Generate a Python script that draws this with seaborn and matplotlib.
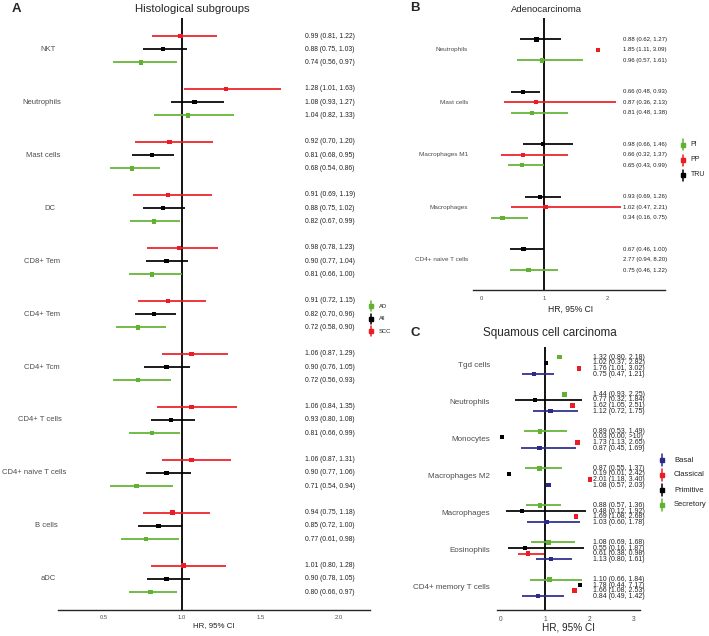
import numpy as np
import pandas as pd
import seaborn as sns
import matplotlib.pyplot as plt
from matplotlib import transforms
from matplotlib.lines import Line2D

sns.set_style('white')
plt.rcParams['font.family'] = ['Liberation Sans', 'DejaVu Sans']

# --- date panel A (subgrupuri histologice) ---
celule_a = ['NKT', 'Neutrophils', 'Mast cells', 'DC', 'CD8+ Tem', 'CD4+ Tem', 'CD4+ Tcm',
            'CD4+ T cells', 'CD4+ naive T cells', 'B cells', 'aDC']
scc = [(0.99, 0.81, 1.22), (1.28, 1.01, 1.63), (0.92, 0.70, 1.20), (0.91, 0.69, 1.19),
       (0.98, 0.78, 1.23), (0.91, 0.72, 1.15), (1.06, 0.87, 1.29), (1.06, 0.84, 1.35),
       (1.06, 0.87, 1.31), (0.94, 0.75, 1.18), (1.01, 0.80, 1.28)]
toate = [(0.88, 0.75, 1.03), (1.08, 0.93, 1.27), (0.81, 0.68, 0.95), (0.88, 0.75, 1.02),
         (0.90, 0.77, 1.04), (0.82, 0.70, 0.96), (0.90, 0.76, 1.05), (0.93, 0.80, 1.08),
         (0.90, 0.77, 1.06), (0.85, 0.72, 1.00), (0.90, 0.78, 1.05)]
ad = [(0.74, 0.56, 0.97), (1.04, 0.82, 1.33), (0.68, 0.54, 0.86), (0.82, 0.67, 0.99),
      (0.81, 0.66, 1.00), (0.72, 0.58, 0.90), (0.72, 0.56, 0.93), (0.81, 0.66, 0.99),
      (0.71, 0.54, 0.94), (0.77, 0.61, 0.98), (0.80, 0.66, 0.97)]

# --- date panel B (adenocarcinom) ---
celule_b = ['Neutrophils', 'Mast cells', 'Macrophages M1', 'Macrophages', 'CD4+ naive T cells']
tru = [(0.88, 0.62, 1.27), (0.66, 0.48, 0.93), (0.98, 0.66, 1.46), (0.93, 0.69, 1.26), (0.67, 0.46, 1.00)]
pp = [(1.85, 1.11, 3.09), (0.87, 0.36, 2.13), (0.66, 0.32, 1.37), (1.02, 0.47, 2.21), (2.77, 0.94, 8.20)]
pi = [(0.96, 0.57, 1.61), (0.81, 0.48, 1.38), (0.65, 0.43, 0.99), (0.34, 0.16, 0.75), (0.75, 0.46, 1.22)]

# --- date panel C (carcinom scuamos) ---
celule_c = ['Tgd cells', 'Neutrophils', 'Monocytes', 'Macrophages M2', 'Macrophages',
            'Eosinophils', 'CD4+ memory T cells']
secretory = [(1.32, 0.80, 2.18), (1.44, 0.93, 2.25), (0.89, 0.53, 1.49), (0.87, 0.55, 1.37),
             (0.88, 0.57, 1.36), (1.08, 0.69, 1.68), (1.10, 0.66, 1.84)]
primitive = [(1.02, 0.37, 2.82), (0.77, 0.32, 1.84), (0.03, 0.00, np.inf), (0.19, 0.01, 2.42),
             (0.48, 0.12, 1.92), (0.55, 0.16, 1.87), (1.78, 0.44, 7.17)]
classical = [(1.76, 1.01, 3.02), (1.62, 1.05, 2.51), (1.73, 1.13, 2.65), (2.01, 1.18, 3.40),
             (1.69, 1.08, 2.68), (0.61, 0.38, 0.98), (1.66, 1.08, 2.53)]
basal = [(0.75, 0.47, 1.21), (1.12, 0.72, 1.75), (0.87, 0.45, 1.69), (1.08, 0.57, 2.03),
         (1.03, 0.60, 1.78), (1.13, 0.80, 1.61), (0.84, 0.49, 1.42)]

ROSU, NEGRU, VERDE, ALBASTRU = '#ec1c24', '#000000', '#62b232', '#2b2a8c'
GRI = '#4d4d4d'

W, H = 709, 636
fig = plt.figure(figsize=(W / 100, H / 100), dpi=100)


def cutie(l, t, r, b):
    return [l / W, 1 - b / H, (r - l) / W, (b - t) / H]


def construieste(celule, serii, pas):
    randuri = []
    for g, cel in enumerate(celule):
        for r, (nume, valori) in enumerate(serii):
            hr, lo, hi = valori[g]
            randuri.append(dict(celula=cel, grup=nume, hr=hr, lo=lo, hi=hi, y=g * pas + r))
    return pd.DataFrame(randuri)


def eticheta(hr, lo, hi):
    sus = '>10' if hi > 10 else f'{hi:.2f}'
    return f'{hr:.2f} ({lo:.2f}, {sus})'


def panel(ax, df, paleta, xlim, ylim, bara_max, punct_max, ticks, tick_fmt, tick_fs, tick_len):
    ax.axvline(1, color='black', lw=1.3, zorder=1)
    ok = df[df.hi <= bara_max]
    ax.hlines(ok.y, ok.lo, ok.hi, colors=ok.grup.map(paleta), lw=1.25, zorder=2)
    pct = df[df.hr <= punct_max]
    sns.scatterplot(data=pct, x='hr', y='y', hue='grup', palette=paleta, marker='s', s=10,
                    linewidth=0, legend=False, ax=ax, zorder=3)
    ax.set_xlim(xlim)
    ax.set_ylim(ylim)
    sns.despine(ax=ax, left=True)
    ax.spines['bottom'].set_linewidth(1.0)
    ax.set_yticks([])
    ax.set_xticks(ticks)
    ax.set_xticklabels([tick_fmt.format(t) for t in ticks])
    ax.tick_params(axis='x', length=tick_len, width=0.8, labelsize=tick_fs, labelcolor=GRI, pad=1.5)
    ax.set_xlabel('')
    ax.set_ylabel('')
    ax.patch.set_alpha(0)


def valori(ax, df, x_px, fs):
    tr = transforms.blended_transform_factory(fig.transFigure, ax.transData)
    for _, rd in df.iterrows():
        ax.text(x_px / W, rd.y, eticheta(rd.hr, rd.lo, rd.hi), transform=tr, fontsize=fs,
                ha='left', va='center', color='#222222', clip_on=False)


def legenda(elemente, xg, xt, ys, fs, h, ms):
    for (nume, cul), y in zip(elemente, ys):
        fig.add_artist(Line2D([xg / W, xg / W], [1 - (y - h / 2) / H, 1 - (y + h / 2) / H],
                              transform=fig.transFigure, color=cul, lw=1.1))
        fig.add_artist(Line2D([xg / W], [1 - y / H], transform=fig.transFigure, color=cul,
                              marker='s', ms=ms, lw=0))
        fig.text(xt / W, 1 - y / H, nume, fontsize=fs, ha='left', va='center', color='#222222')


# ---------------- panel A ----------------
ax_a = fig.add_axes(cutie(58, 18, 370, 610))
df_a = construieste(celule_a, [('SCC', scc), ('All', toate), ('AD', ad)], 4)
panel(ax_a, df_a, {'SCC': ROSU, 'All': NEGRU, 'AD': VERDE}, (0.2097, 2.198), (43.35, -1.36),
      99, 99, [0.5, 1.0, 1.5, 2.0], '{:.1f}', 4.2, 2)
valori(ax_a, df_a, 305, 4.9)
rend = fig.canvas.get_renderer()
tr_a = transforms.blended_transform_factory(fig.transFigure, ax_a.transData)
for g, cel in enumerate(celule_a):
    t = ax_a.text(0, g * 4 + 1, cel, transform=tr_a, fontsize=5.5, ha='left', va='center',
                  color=GRI, clip_on=False)
    w = t.get_window_extent(renderer=rend).width
    t.set_x((53 - 0.8 * w) / W)
fig.text(192.5 / W, 1 - 8.5 / H, 'Histological subgroups', fontsize=8.2, ha='center', va='center')
fig.text(16 / W, 1 - 9 / H, 'A', fontsize=9.5, fontweight='bold', ha='center', va='center')
fig.text(214 / W, 1 - 626 / H, 'HR, 95% CI', fontsize=5.7, ha='center', va='center', color='#222222')
legenda([('AD', VERDE), ('All', NEGRU), ('SCC', ROSU)], 371, 379, [306, 318.5, 331], 4.2, 10, 2.2)

# ---------------- panel B ----------------
ax_b = fig.add_axes(cutie(473, 18, 665, 290))
df_b = construieste(celule_b, [('TRU', tru), ('PP', pp), ('PI', pi)], 5)
panel(ax_b, df_b, {'TRU': NEGRU, 'PP': ROSU, 'PI': VERDE}, (-0.126, 2.907), (23.88, -2.03),
      2.75, 2.75, [0, 1, 2], '{:.0f}', 4.2, 2.5)
valori(ax_b, df_b, 623, 4.3)
tr_b = transforms.blended_transform_factory(fig.transFigure, ax_b.transData)
for g, cel in enumerate(celule_b):
    ax_b.text(468 / W, g * 5 + 1, cel, transform=tr_b, fontsize=4.6, ha='right', va='center',
              color=GRI, clip_on=False)
fig.text(546.7 / W, 1 - 9.5 / H, 'Adenocarcinoma', fontsize=6.8, ha='center', va='center')
fig.text(415 / W, 1 - 8 / H, 'B', fontsize=9.5, fontweight='bold', ha='center', va='center')
fig.text(571 / W, 1 - 309 / H, 'HR, 95% CI', fontsize=6.2, ha='center', va='center', color='#222222')
legenda([('PI', VERDE), ('PP', ROSU), ('TRU', NEGRU)], 683.3, 690.5, [144.5, 160, 175], 5.0, 11, 2.6)

# ---------------- panel C ----------------
PAS_C = 6.65
ax_c = fig.add_axes(cutie(497, 347, 640, 610))
df_c = construieste(celule_c, [('Secretory', secretory), ('Primitive', primitive),
                               ('Classical', classical), ('Basal', basal)], PAS_C)
panel(ax_c, df_c, {'Secretory': VERDE, 'Primitive': NEGRU, 'Classical': ROSU, 'Basal': ALBASTRU},
      (-0.083, 3.135), (45.37, -1.85), 2.0, 99, [0, 1, 2, 3], '{:.0f}', 4.8, 3)
valori(ax_c, df_c, 593, 5.0)
tr_c = transforms.blended_transform_factory(fig.transFigure, ax_c.transData)
for g, cel in enumerate(celule_c):
    ax_c.text(490 / W, g * PAS_C + 1.5, cel, transform=tr_c, fontsize=5.8, ha='right', va='center',
              color=GRI, clip_on=False)
fig.text(550 / W, 1 - 333 / H, 'Squamous cell carcinoma', fontsize=8.4, ha='center', va='center')
fig.text(415.5 / W, 1 - 332.5 / H, 'C', fontsize=9.5, fontweight='bold', ha='center', va='center')
fig.text(568 / W, 1 - 628 / H, 'HR, 95% CI', fontsize=7.2, ha='center', va='center', color='#222222')
legenda([('Basal', ALBASTRU), ('Classical', ROSU), ('Primitive', NEGRU), ('Secretory', VERDE)],
        662, 674, [460, 475, 490, 504.5], 5.5, 12, 3)

fig.savefig('out.png', dpi=100)
